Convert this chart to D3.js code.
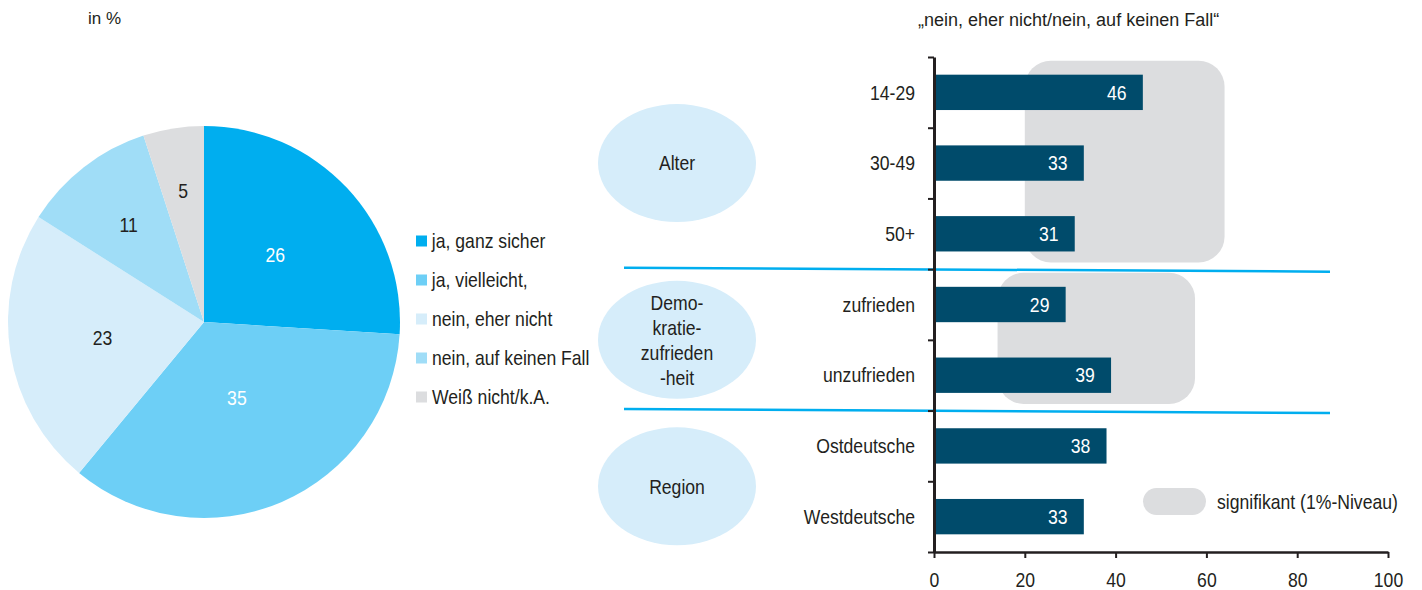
<!DOCTYPE html>
<html>
<head>
<meta charset="UTF-8">
<title>Demonstration</title>
<style>
  body { margin: 0; background: #fff; }
  svg text { font-family: "Liberation Sans", Arial, sans-serif; fill: #231F20; }
  /* squeeze the text a bit, no condensed face is available */
  svg text.c { transform-box: fill-box; transform: scaleX(0.88); }
  svg text.c.l { transform-origin: left center; }
  svg text.c.m { transform-origin: center center; }
  svg text.c.r { transform-origin: right center; }
</style>
</head>
<body>
<script src="https://d3js.org/d3.v7.min.js"></script>
<div id="chart"></div>
<script>
// pie data
var pieLabels = ["ja, ganz sicher", "ja, vielleicht,", "nein, eher nicht", "nein, auf keinen Fall", "Weiß nicht/k.A."];
var pieValues = [26, 35, 23, 11, 5];
var pieColors = ["#00AEEF", "#6DCFF6", "#D6EDFA", "#A0DDF7", "#DCDDDF"];
var pieTextColors = ["#fff", "#fff", "#231F20", "#231F20", "#231F20"];

// bar data
var barCats = ["14-29", "30-49", "50+", "zufrieden", "unzufrieden", "Ostdeutsche", "Westdeutsche"];
var barValues = [46, 33, 31, 29, 39, 38, 33];
var groupNames = [["Alter"], ["Demo-", "kratie-", "zufrieden", "-heit"], ["Region"]];
var groupRows = [["14-29", "50+"], ["zufrieden", "unzufrieden"], ["Ostdeutsche", "Westdeutsche"]];
var sigRows = [["14-29", "50+"], ["zufrieden", "unzufrieden"]];
var sigFrom = [20, 14];
var sigTo = [64, 57.5];
var xTicks = [0, 20, 40, 60, 80, 100];

var W = 1422, H = 590;
var svg = d3.select("#chart").append("svg")
    .attr("width", W).attr("height", H);

svg.append("text").attr("x", 88).attr("y", 24)
    .style("font-size", "17px").text("in %");
svg.append("text").attr("x", 918).attr("y", 26)
    .style("font-size", "18px").text("„nein, eher nicht/nein, auf keinen Fall“");

// ---------- pie ----------
var r = 196, cx = 204, cy = 322;
var pieG = svg.append("g").attr("transform", "translate(" + cx + "," + cy + ")");
var pie = d3.pie().sort(null).value(function(d) { return d; });
var arc = d3.arc().innerRadius(0).outerRadius(r);
var arcs = pie(pieValues);

pieG.selectAll("path")
    .data(arcs)
    .enter().append("path")
    .attr("d", arc)
    .attr("fill", function(d, i) { return pieColors[i]; });

function labelPos(d) {
    // small slices get their number further out
    var lr = r * (0.72 - 0.0085 * d.value);
    return d3.arc().innerRadius(lr).outerRadius(lr).centroid(d);
}
pieG.selectAll("text.val")
    .data(arcs)
    .enter().append("text")
    .attr("class", "val c m")
    .attr("x", function(d) { return labelPos(d)[0]; })
    .attr("y", function(d) { return labelPos(d)[1]; })
    .attr("text-anchor", "middle")
    .attr("dy", "0.36em")
    .style("font-size", "20px")
    .style("fill", function(d, i) { return pieTextColors[i]; })
    .text(function(d) { return d.value; });

var leg = svg.append("g").attr("transform", "translate(416,241)");
var legRow = leg.selectAll("g")
    .data(pieLabels)
    .enter().append("g")
    .attr("transform", function(d, i) { return "translate(0," + (i * 39) + ")"; });
legRow.append("rect")
    .attr("x", 0).attr("y", -5.5).attr("width", 11).attr("height", 11)
    .attr("fill", function(d, i) { return pieColors[i]; });
legRow.append("text")
    .attr("class", "c l")
    .attr("x", 16).attr("dy", "0.36em")
    .style("font-size", "20px")
    .text(function(d) { return d; });

// ---------- bars ----------
var x = d3.scaleLinear().domain([0, 100]).range([934, 1388]);
var y = d3.scaleBand().domain(barCats).range([57, 552])
    .paddingInner(0.5).paddingOuter(0.25);
var yEdge = d3.scaleLinear().domain([0, barCats.length]).range([57, 552]);

// significance boxes
svg.selectAll("rect.sig")
    .data(sigRows)
    .enter().append("rect")
    .attr("class", "sig")
    .attr("x", function(d, i) { return x(sigFrom[i]); })
    .attr("width", function(d, i) { return x(sigTo[i]) - x(sigFrom[i]); })
    .attr("y", function(d) { return y(d[0]) - 14; })
    .attr("height", function(d) { return y(d[1]) + y.bandwidth() + 11 - (y(d[0]) - 14); })
    .attr("rx", 26)
    .attr("fill", "#DCDDDF");

// group ellipses
var grp = svg.selectAll("g.grp")
    .data(groupRows)
    .enter().append("g")
    .attr("class", "grp")
    .attr("transform", function(d, i) {
        var a = barCats.indexOf(d[0]), b = barCats.indexOf(d[1]) + 1;
        var off = i == groupRows.length - 1 ? 5 : 0;
        return "translate(677," + ((yEdge(a) + yEdge(b)) / 2 + off) + ")";
    });
grp.append("ellipse").attr("rx", 79).attr("ry", 59).attr("fill", "#D6EDFA");
grp.append("text")
    .attr("class", "c m")
    .attr("text-anchor", "middle")
    .style("font-size", "20px")
    .each(function(d, i) {
        var lines = groupNames[i];
        var t = d3.select(this);
        lines.forEach(function(l, j) {
            t.append("tspan").attr("x", 0)
                .attr("y", (j - (lines.length - 1) / 2) * 25)
                .attr("dy", "0.36em")
                .text(l);
        });
    });

// separator lines
[3, 5].forEach(function(k) {
    svg.append("line")
        .attr("x1", 624).attr("x2", 1330)
        .attr("y1", yEdge(k) - 1.5).attr("y2", yEdge(k) + 2.5)
        .attr("stroke", "#00AEEF").attr("stroke-width", 2.5);
});

svg.selectAll("rect.bar")
    .data(barValues)
    .enter().append("rect")
    .attr("class", "bar")
    .attr("x", x(0))
    .attr("y", function(d, i) { return y(barCats[i]); })
    .attr("width", function(d) { return x(d) - x(0); })
    .attr("height", y.bandwidth())
    .attr("fill", "#004B6B");

svg.selectAll("text.barval")
    .data(barValues)
    .enter().append("text")
    .attr("class", "barval c m")
    .attr("x", function(d) { return x(d) - 26; })
    .attr("y", function(d, i) { return y(barCats[i]) + y.bandwidth() / 2; })
    .attr("dy", "0.36em")
    .attr("text-anchor", "middle")
    .style("font-size", "20px")
    .style("fill", "#fff")
    .text(function(d) { return d; });

svg.selectAll("text.cat")
    .data(barCats)
    .enter().append("text")
    .attr("class", "cat c r")
    .attr("x", 915)
    .attr("y", function(d) { return y(d) + y.bandwidth() / 2; })
    .attr("dy", "0.36em")
    .attr("text-anchor", "end")
    .style("font-size", "20px")
    .text(function(d) { return d; });

// axes
var yAxis = svg.append("g")
    .attr("transform", "translate(" + x(0) + ",0)")
    .call(d3.axisLeft(yEdge).tickValues(d3.range(barCats.length + 1))
        .tickFormat("").tickSizeInner(6).tickSizeOuter(0));
yAxis.select(".domain").attr("stroke", "#231F20").attr("stroke-width", 3);
yAxis.selectAll(".tick line").attr("stroke", "#231F20").attr("stroke-width", 2);

var xAxis = svg.append("g")
    .attr("transform", "translate(0,552)")
    .call(d3.axisBottom(x).tickValues(xTicks).tickSizeInner(6).tickSizeOuter(0).tickPadding(15));
xAxis.select(".domain").attr("stroke", "#231F20").attr("stroke-width", 2.5);
xAxis.selectAll(".tick line").attr("stroke", "#231F20").attr("stroke-width", 2);
xAxis.selectAll(".tick text")
    .attr("class", "c m")
    .style("font-size", "20px")
    .style("font-family", "'Liberation Sans', Arial, sans-serif")
    .attr("fill", "#231F20");

// significance legend
svg.append("rect")
    .attr("x", 1143).attr("y", 488).attr("width", 63).attr("height", 27)
    .attr("rx", 13.5).attr("fill", "#DCDDDF");
svg.append("text")
    .attr("class", "c l")
    .attr("x", 1217).attr("y", 502).attr("dy", "0.36em")
    .style("font-size", "20px")
    .text("signifikant (1%-Niveau)");
</script>
</body>
</html>
